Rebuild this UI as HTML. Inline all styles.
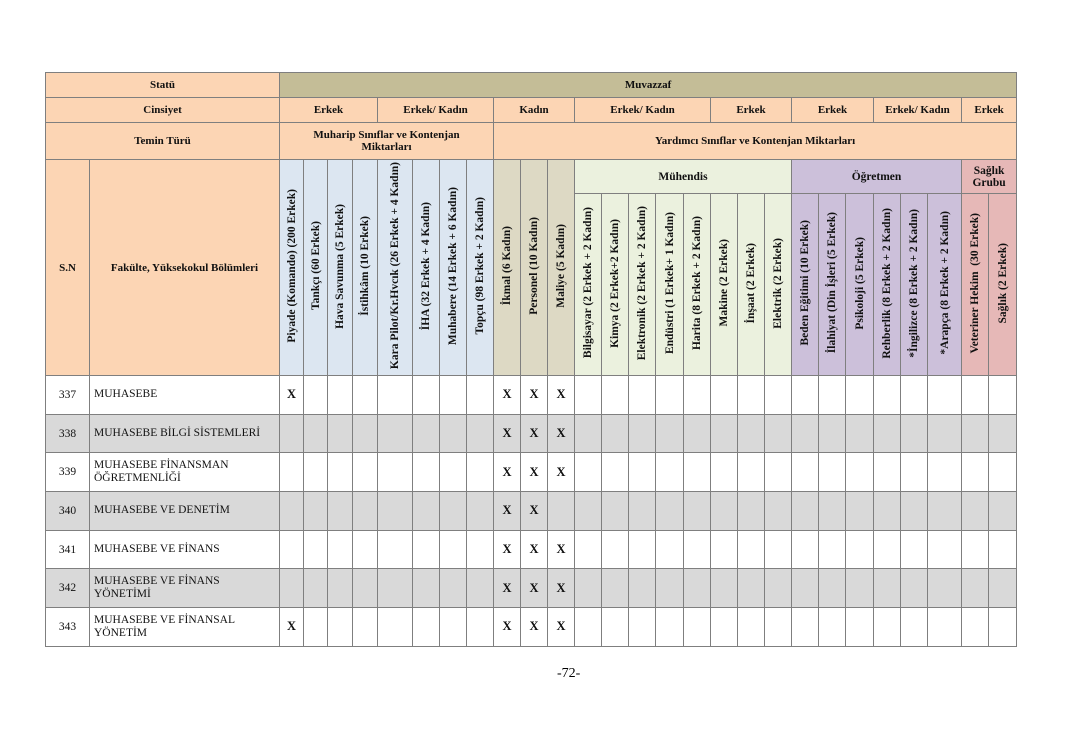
<!DOCTYPE html>
<html><head><meta charset="utf-8">
<style>
body{margin:0;background:#fff;width:1068px;height:755px;position:relative;overflow:hidden;font-family:"Liberation Serif",serif;}
table{position:absolute;left:45px;top:72px;border-collapse:collapse;table-layout:fixed;width:971px;}
td{border:1px solid #7f7f7f;padding:0;text-align:center;vertical-align:middle;font-size:11px;color:#111;overflow:hidden;}
.h{font-weight:bold;background:#fcd5b4;}
.mv{background:#c4bd97;font-weight:bold;}
.v{font-weight:bold;font-size:11.5px;white-space:nowrap;}
.v span{writing-mode:vertical-rl;transform:rotate(180deg);display:inline-block;}
.b{background:#dce6f1}.t{background:#ddd9c4}.g{background:#ebf1de}.p{background:#ccc0da}.r{background:#e6b8b7}
.sb{font-weight:bold;font-size:11.5px;}
.d td{height:37.7px;}
.d td.n{font-size:11.5px;}
.d td.f{text-align:left;padding-left:4px;font-size:11.5px;line-height:13px;}
.x{font-weight:bold;font-size:12.5px;}
.gr td{background:#d9d9d9;}
.pg{position:absolute;left:557px;top:666px;font-size:14px;}
</style></head><body>
<table>
<colgroup>
<col style="width:44px"><col style="width:190px">
<col style="width:24px"><col style="width:24px"><col style="width:25px"><col style="width:25px"><col style="width:35px"><col style="width:27px"><col style="width:27px"><col style="width:27px">
<col style="width:27px"><col style="width:27px"><col style="width:27px">
<col style="width:27px"><col style="width:27px"><col style="width:27px"><col style="width:28px"><col style="width:27px"><col style="width:27px"><col style="width:27px"><col style="width:27px">
<col style="width:27px"><col style="width:27px"><col style="width:28px"><col style="width:27px"><col style="width:27px"><col style="width:34px">
<col style="width:27px"><col style="width:28px">
</colgroup>
<tr style="height:25px"><td class="h" colspan="2">Statü</td><td class="mv" colspan="27">Muvazzaf</td></tr>
<tr style="height:25px"><td class="h" colspan="2">Cinsiyet</td><td class="h" colspan="4">Erkek</td><td class="h" colspan="4">Erkek/ Kadın</td><td class="h" colspan="3">Kadın</td><td class="h" colspan="5">Erkek/ Kadın</td><td class="h" colspan="3">Erkek</td><td class="h" colspan="3">Erkek</td><td class="h" colspan="3">Erkek/ Kadın</td><td class="h" colspan="2">Erkek</td></tr>
<tr style="height:37px"><td class="h" colspan="2">Temin Türü</td><td class="h" colspan="8">Muharip Sınıflar ve Kontenjan<br>Miktarları</td><td class="h" colspan="19">Yardımcı Sınıflar ve Kontenjan Miktarları</td></tr>
<tr style="height:34px">
<td class="h" rowspan="2">S.N</td><td class="h" rowspan="2">Fakülte, Yüksekokul Bölümleri</td>
<td class="v b" rowspan="2"><span>Piyade (Komando) (200 Erkek)</span></td>
<td class="v b" rowspan="2"><span>Tankçı (60 Erkek)</span></td>
<td class="v b" rowspan="2"><span>Hava Savunma (5 Erkek)</span></td>
<td class="v b" rowspan="2"><span>İstihkâm (10 Erkek)</span></td>
<td class="v b" rowspan="2"><span>Kara Pilot/Kr.Hvcık (26 Erkek + 4 Kadın)</span></td>
<td class="v b" rowspan="2"><span>İHA (32 Erkek + 4 Kadın)</span></td>
<td class="v b" rowspan="2"><span>Muhabere (14 Erkek + 6 Kadın)</span></td>
<td class="v b" rowspan="2"><span>Topçu (98 Erkek + 2 Kadın)</span></td>
<td class="v t" rowspan="2"><span>İkmal (6 Kadın)</span></td>
<td class="v t" rowspan="2"><span>Personel (10 Kadın)</span></td>
<td class="v t" rowspan="2"><span>Maliye (5 Kadın)</span></td>
<td class="g sb" colspan="8">Mühendis</td>
<td class="p sb" colspan="6">Öğretmen</td>
<td class="r sb" colspan="2" style="line-height:12px">Sağlık<br>Grubu</td>
</tr>
<tr style="height:182px">
<td class="v g"><span>Bilgisayar (2 Erkek + 2 Kadın)</span></td>
<td class="v g"><span>Kimya (2 Erkek+2 Kadın)</span></td>
<td class="v g"><span>Elektronik (2 Erkek + 2 Kadın)</span></td>
<td class="v g"><span>Endüstri (1 Erkek+ 1 Kadın)</span></td>
<td class="v g"><span>Harita (8 Erkek + 2 Kadın)</span></td>
<td class="v g"><span>Makine (2 Erkek)</span></td>
<td class="v g"><span>İnşaat (2 Erkek)</span></td>
<td class="v g"><span>Elektrik (2 Erkek)</span></td>
<td class="v p"><span>Beden Eğitimi (10 Erkek)</span></td>
<td class="v p"><span>İlahiyat (Din İşleri (5 Erkek)</span></td>
<td class="v p"><span>Psikoloji (5 Erkek)</span></td>
<td class="v p"><span>Rehberlik (8 Erkek + 2 Kadın)</span></td>
<td class="v p"><span>*İngilizce (8 Erkek + 2 Kadın)</span></td>
<td class="v p"><span>*Arapça (8 Erkek + 2 Kadın)</span></td>
<td class="v r"><span>Veteriner Hekim&nbsp; (30 Erkek)</span></td>
<td class="v r"><span>Sağlık (2 Erkek)</span></td>
</tr>
<tr class="d"><td class="n">337</td><td class="f">MUHASEBE</td><td class="x">X</td><td></td><td></td><td></td><td></td><td></td><td></td><td></td><td class="x">X</td><td class="x">X</td><td class="x">X</td><td></td><td></td><td></td><td></td><td></td><td></td><td></td><td></td><td></td><td></td><td></td><td></td><td></td><td></td><td></td><td></td></tr>
<tr class="d gr"><td class="n">338</td><td class="f">MUHASEBE BİLGİ SİSTEMLERİ</td><td></td><td></td><td></td><td></td><td></td><td></td><td></td><td></td><td class="x">X</td><td class="x">X</td><td class="x">X</td><td></td><td></td><td></td><td></td><td></td><td></td><td></td><td></td><td></td><td></td><td></td><td></td><td></td><td></td><td></td><td></td></tr>
<tr class="d"><td class="n">339</td><td class="f">MUHASEBE FİNANSMAN<br>ÖĞRETMENLİĞİ</td><td></td><td></td><td></td><td></td><td></td><td></td><td></td><td></td><td class="x">X</td><td class="x">X</td><td class="x">X</td><td></td><td></td><td></td><td></td><td></td><td></td><td></td><td></td><td></td><td></td><td></td><td></td><td></td><td></td><td></td><td></td></tr>
<tr class="d gr"><td class="n">340</td><td class="f">MUHASEBE VE DENETİM</td><td></td><td></td><td></td><td></td><td></td><td></td><td></td><td></td><td class="x">X</td><td class="x">X</td><td></td><td></td><td></td><td></td><td></td><td></td><td></td><td></td><td></td><td></td><td></td><td></td><td></td><td></td><td></td><td></td><td></td></tr>
<tr class="d"><td class="n">341</td><td class="f">MUHASEBE VE FİNANS</td><td></td><td></td><td></td><td></td><td></td><td></td><td></td><td></td><td class="x">X</td><td class="x">X</td><td class="x">X</td><td></td><td></td><td></td><td></td><td></td><td></td><td></td><td></td><td></td><td></td><td></td><td></td><td></td><td></td><td></td><td></td></tr>
<tr class="d gr"><td class="n">342</td><td class="f">MUHASEBE VE FİNANS<br>YÖNETİMİ</td><td></td><td></td><td></td><td></td><td></td><td></td><td></td><td></td><td class="x">X</td><td class="x">X</td><td class="x">X</td><td></td><td></td><td></td><td></td><td></td><td></td><td></td><td></td><td></td><td></td><td></td><td></td><td></td><td></td><td></td><td></td></tr>
<tr class="d"><td class="n">343</td><td class="f">MUHASEBE VE FİNANSAL<br>YÖNETİM</td><td class="x">X</td><td></td><td></td><td></td><td></td><td></td><td></td><td></td><td class="x">X</td><td class="x">X</td><td class="x">X</td><td></td><td></td><td></td><td></td><td></td><td></td><td></td><td></td><td></td><td></td><td></td><td></td><td></td><td></td><td></td><td></td></tr>
</table>
<div class="pg">-72-</div>
</body></html>
